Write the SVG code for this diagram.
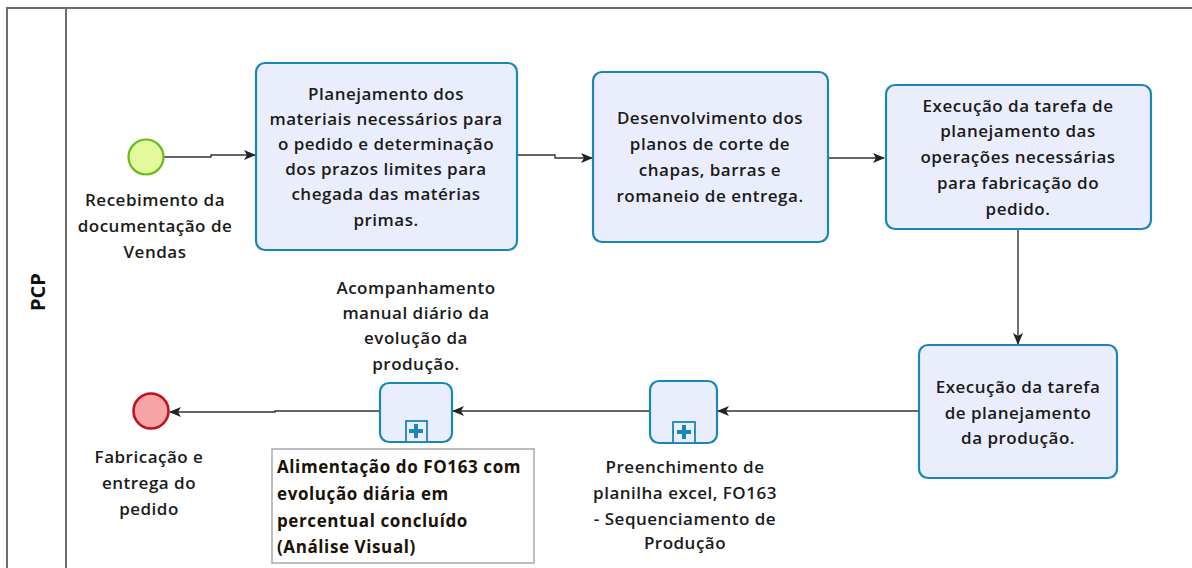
<svg xmlns="http://www.w3.org/2000/svg" width="1192" height="568" viewBox="0 0 1192 568">
<defs>
<style>
.frame{fill:none;stroke:#6b6b6b;stroke-width:2}
.task{fill:#eaeefc;stroke:#1a86b6;stroke-width:2.2}
.mk{fill:#eaeefc;stroke:#1a86b6;stroke-width:1.8}
.plus{fill:#1a86b6}
.edge{fill:none;stroke:#333;stroke-width:1.4}
.t{font-family:"Open Sans","Noto Sans",sans-serif;font-size:17px;font-weight:600;letter-spacing:0.5px;fill:#1a1a1a;text-anchor:middle}
.ta{font-family:"Open Sans","Noto Sans",sans-serif;font-size:17px;font-weight:700;letter-spacing:0.6px;fill:#1a1208}
.lane{font-family:"Open Sans","Noto Sans",sans-serif;font-size:20px;font-weight:700;fill:#111;text-anchor:middle}
</style>
<marker id="arr" viewBox="0 0 12 10" refX="11" refY="5" markerWidth="12" markerHeight="10" markerUnits="userSpaceOnUse" orient="auto">
<path d="M0,0 L12,5 L0,10 L3,5 z" fill="#222"/>
</marker>
</defs>
<rect width="1192" height="568" fill="#fff"/>
<g id="pool">
<path class="frame" d="M7,580 V8 H1200"/>
<line class="frame" x1="66" y1="8" x2="66" y2="580"/>
<text class="lane" transform="translate(45,292) rotate(-90)">PCP</text>
</g>
<g id="connectors">
<path class="edge" d="M164,157 H211 V155 H255" marker-end="url(#arr)"/>
<path class="edge" d="M517,155 H555 V158 H592" marker-end="url(#arr)"/>
<path class="edge" d="M828,158 H884" marker-end="url(#arr)"/>
<path class="edge" d="M1018,229 V344" marker-end="url(#arr)"/>
<path class="edge" d="M919,411 H718" marker-end="url(#arr)"/>
<path class="edge" d="M650,411 H453" marker-end="url(#arr)"/>
<path class="edge" d="M380,411 H275 V412 H170" marker-end="url(#arr)"/>
</g>
<g id="start">
<circle cx="146" cy="157" r="17.5" fill="#e4f99c" stroke="#68bb1f" stroke-width="2.2"/>
<text class="t"><tspan x="155" y="206">Recebimento da</tspan><tspan x="155" y="232">documentação de</tspan><tspan x="155" y="258">Vendas</tspan></text>
</g>
<g id="task1">
<rect class="task" x="256" y="63" width="261" height="187" rx="9"/>
<text class="t"><tspan x="386" y="100">Planejamento dos</tspan><tspan x="386" y="125">materiais necessários para</tspan><tspan x="386" y="150">o pedido e determinação</tspan><tspan x="386" y="175">dos prazos limites para</tspan><tspan x="386" y="200">chegada das matérias</tspan><tspan x="386" y="226">primas.</tspan></text>
</g>
<g id="task2">
<rect class="task" x="593" y="72" width="235" height="170" rx="9"/>
<text class="t"><tspan x="710" y="124">Desenvolvimento dos</tspan><tspan x="710" y="150">planos de corte de</tspan><tspan x="710" y="176">chapas, barras e</tspan><tspan x="710" y="202">romaneio de entrega.</tspan></text>
</g>
<g id="task3">
<rect class="task" x="886" y="85" width="265" height="144" rx="9"/>
<text class="t"><tspan x="1018" y="112">Execução da tarefa de</tspan><tspan x="1018" y="137">planejamento das</tspan><tspan x="1018" y="163">operações necessárias</tspan><tspan x="1018" y="189">para fabricação do</tspan><tspan x="1018" y="215">pedido.</tspan></text>
</g>
<g id="task4">
<rect class="task" x="919" y="345" width="198" height="133" rx="9"/>
<text class="t"><tspan x="1018" y="393">Execução da tarefa</tspan><tspan x="1018" y="419">de planejamento</tspan><tspan x="1018" y="444">da produção.</tspan></text>
</g>
<g id="sub1">
<rect class="task" x="650" y="381" width="67" height="62" rx="9"/>
<rect class="mk" x="673" y="422" width="22" height="21"/>
<path class="plus" d="M682,425 h4 v5 h5 v4 h-5 v5 h-4 v-5 h-5 v-4 h5 z"/>
<text class="t"><tspan x="685" y="473">Preenchimento de</tspan><tspan x="685" y="499">planilha excel, FO163</tspan><tspan x="685" y="525">- Sequenciamento de</tspan><tspan x="685" y="549">Produção</tspan></text>
</g>
<g id="sub2">
<rect class="task" x="380" y="383" width="72" height="59" rx="9"/>
<rect class="mk" x="406" y="421" width="21" height="21"/>
<path class="plus" d="M414,424 h4 v5 h5 v4 h-5 v5 h-4 v-5 h-5 v-4 h5 z"/>
<text class="t"><tspan x="416" y="294">Acompanhamento</tspan><tspan x="416" y="319">manual diário da</tspan><tspan x="416" y="344">evolução da</tspan><tspan x="416" y="370">produção.</tspan></text>
</g>
<g id="annotation">
<rect x="272" y="449" width="262" height="114" fill="#fff" stroke="#a8a8a8" stroke-width="1.5"/>
<text class="ta"><tspan x="277" y="473">Alimentação do FO163 com</tspan><tspan x="277" y="500">evolução diária em</tspan><tspan x="277" y="527">percentual concluído</tspan><tspan x="277" y="553">(Análise Visual)</tspan></text>
</g>
<g id="end">
<circle cx="151" cy="411" r="17.5" fill="#f7a5a7" stroke="#c0121c" stroke-width="2.6"/>
<text class="t"><tspan x="149" y="463">Fabricação e</tspan><tspan x="149" y="489">entrega do</tspan><tspan x="149" y="515">pedido</tspan></text>
</g>
</svg>
